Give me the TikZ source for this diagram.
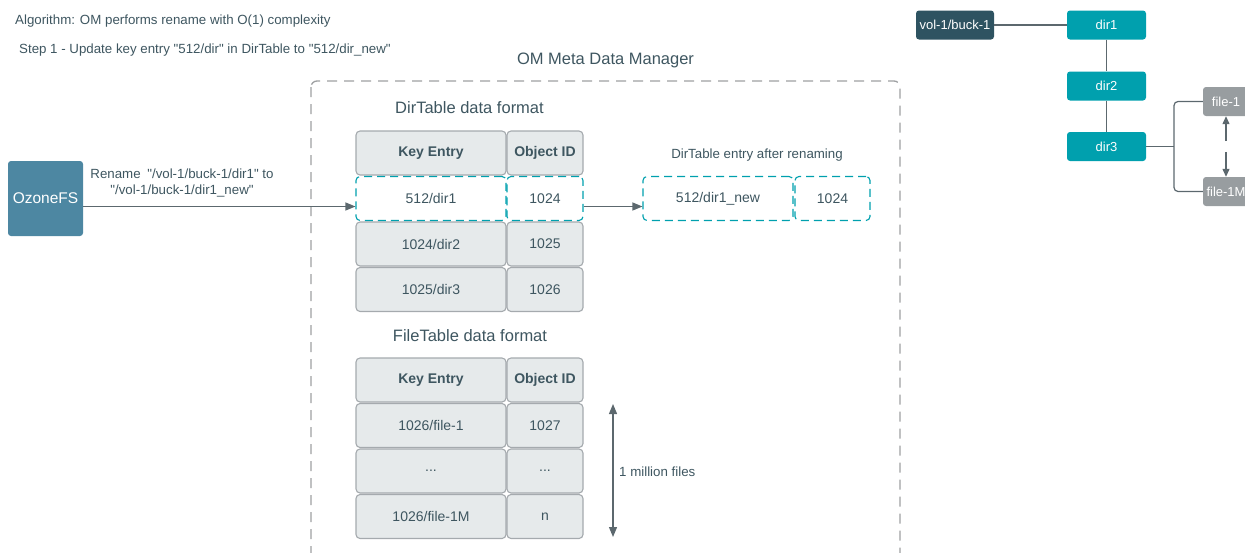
\documentclass[tikz,border=0pt]{standalone}
\usepackage{fontspec}
\setmainfont{Liberation Sans}
\usetikzlibrary{arrows.meta}
\definecolor{slate}{RGB}{62,86,96}
\definecolor{cellfill}{RGB}{230,234,235}
\definecolor{cellline}{RGB}{165,170,174}
\definecolor{boxgray}{RGB}{158,160,162}
\definecolor{linkgray}{RGB}{92,104,110}
\definecolor{ozoneblue}{RGB}{77,135,162}
\definecolor{volblue}{RGB}{46,83,97}
\definecolor{dirteal}{RGB}{0,160,174}
\definecolor{filegray}{RGB}{152,157,160}
\newcommand{\fsz}[2]{\fontsize{#1}{#2}\selectfont}
\newcommand{\dq}{\textquotedbl}

\begin{document}
\begin{tikzpicture}[x=1pt,y=-1pt,
    every node/.style={text=slate},
    cell/.style={draw=cellline, fill=cellfill, line width=1.1pt, rounded corners=4pt,
        inner sep=0pt, minimum height=44pt, font=\fsz{14}{17}},
    keycell/.style={cell, minimum width=150pt},
    idcell/.style={cell, minimum width=76pt},
    renamed/.style={fill=white, draw=dirteal, dash pattern=on 8pt off 5pt},
    treebox/.style={rounded corners=3pt, inner sep=0pt, minimum width=79pt,
        minimum height=29pt, text=white, font=\fsz{13}{16}},
    wire/.style={draw=linkgray, line width=1.2pt},
    arrowed/.style={-{Triangle[length=10pt,width=8pt]}},
    label/.style={inner sep=0pt, font=\fsz{13.3}{16}},
]
    \useasboundingbox (0,0) rectangle (1245,552);
    \clip (0,0) rectangle (1245,552);

    % Headings
    \node[label, anchor=west] (algo) at (15,21) {Algorithm: OM performs rename with O(1) complexity};
    \node[label, anchor=west] (step) at (19,50) {Step 1 - Update key entry \dq512/dir\dq{} in DirTable to \dq512/dir\_new\dq};

    % OM meta data manager
    \node[font=\fsz{16.5}{20}] (omtitle) at (605.5,60) {OM Meta Data Manager};
    \draw[boxgray, line width=1.3pt, dash pattern=on 10pt off 7pt, rounded corners=6pt] (311,81) rectangle (900,600);

    % DirTable
    \node[font=\fsz{16.5}{20}] (dirtitle) at (469.5,108) {DirTable data format};
    \node[keycell, font=\fsz{14}{17}\bfseries] (dk0) at (431,153) {Key Entry};
    \node[idcell, font=\fsz{14}{17}\bfseries] (did0) at (545,153) {Object ID};
    \foreach \i/\k/\v in {2/{1024/dir2}/1025, 3/{1025/dir3}/1026} {
        \node[keycell] (dk\i) at (431,153+45.5*\i) {\k};
        \node[idcell] (did\i) at (545,153+45.5*\i) {\v};
    }
    \node[keycell, renamed] (dk1) at (431,198.5) {512/dir1};
    \node[idcell, renamed] (did1) at (545,198.5) {1024};

    % FileTable
    \node[font=\fsz{16.5}{20}] (filetitle) at (470,336) {FileTable data format};
    \node[keycell, font=\fsz{14}{17}\bfseries] (fk0) at (431,380) {Key Entry};
    \node[idcell, font=\fsz{14}{17}\bfseries] (fid0) at (545,380) {Object ID};
    \foreach \i/\k/\v in {1/{1026/file-1}/1027, 2/{...}/{...}, 3/{1026/file-1M}/n} {
        \node[keycell] (fk\i) at (431,380+45.5*\i) {\k};
        \node[idcell] (fid\i) at (545,380+45.5*\i) {\v};
    }
    \coordinate (mtop) at (613,404);
    \coordinate (mbottom) at (613,537);
    \draw[wire, {Triangle[length=10pt,width=8pt]}-{Triangle[length=10pt,width=8pt]}] (mtop) -- (mbottom);
    \node[label, anchor=west] (million) at (619,472) {1 million files};

    % OzoneFS client
    \node[fill=ozoneblue, rounded corners=3pt, minimum width=75pt, minimum height=75pt,
        text=white, font=\fsz{15.5}{18}] (ozone) at (45.5,198.5) {OzoneFS};
    \draw[wire, arrowed] ([yshift=-8pt]ozone.east) -- ([yshift=-8pt]dk1.west);
    \node[label, align=center] (renamelabel) at (182,183) {Rename\enspace\dq/vol-1/buck-1/dir1\dq{} to\\\dq/vol-1/buck-1/dir1\_new\dq};

    % Entry after renaming
    \node[label] (aftertitle) at (757,155) {DirTable entry after renaming};
    \node[keycell, renamed] (nk) at (718,198.5) {512/dir1\_new};
    \node[idcell, renamed, minimum width=75pt] (nid) at (832.5,198.5) {1024};
    \draw[wire, arrowed] ([yshift=-8pt]did1.east) -- ([yshift=-8pt]nk.west);

    % Namespace tree
    \node[treebox, fill=volblue, minimum width=78pt] (vol) at (955,25) {vol-1/buck-1};
    \node[treebox, fill=dirteal] (dir1) at (1106.5,25) {dir1};
    \node[treebox, fill=dirteal] (dir2) at (1106.5,86) {dir2};
    \node[treebox, fill=dirteal] (dir3) at (1106.5,146.5) {dir3};
    \node[treebox, fill=filegray, minimum width=46pt] (file1) at (1226,101.5) {file-1};
    \node[treebox, fill=filegray, minimum width=46pt] (file1m) at (1226,191.5) {file-1M};
    \draw[wire] (vol) -- (dir1);
    \draw[wire] (dir1) -- (dir2) -- (dir3);
    \coordinate (fork) at (1174,146.5);
    \draw[wire] (dir3.east) -- (fork);
    \draw[wire, rounded corners=4pt] (file1.west) -| (fork) |- (file1m.west);
    \draw[wire, -{Triangle[length=8pt,width=7pt]}] ([yshift=-25pt]file1.south) -- (file1.south);
    \draw[wire, -{Triangle[length=8pt,width=7pt]}] ([yshift=25pt]file1m.north) -- (file1m.north);
\end{tikzpicture}
\end{document}
